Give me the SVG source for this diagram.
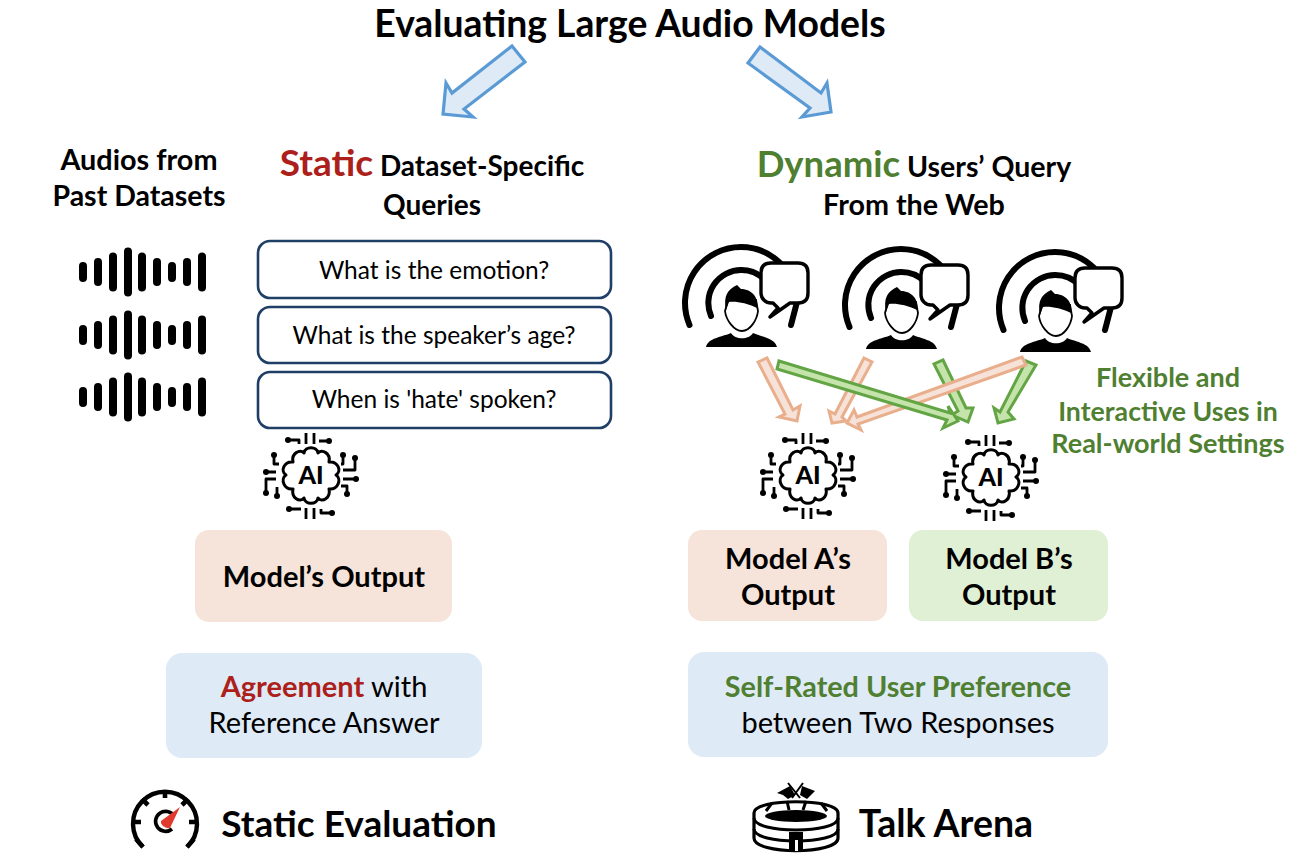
<svg xmlns="http://www.w3.org/2000/svg" width="1310" height="864" viewBox="0 0 1310 864">
<style>
text{font-family:"Lato","Open Sans","Liberation Sans",sans-serif;fill:#000;text-anchor:middle}
.b{font-weight:700}
.red{fill:#ad1f1b;font-weight:700}
.grn{fill:#4f7f31;font-weight:700}
.q{fill:#fff;stroke:#1f3f66;stroke-width:2.6}
.pe{fill:#f6e3d9}.gr{fill:#e0f0d4}.bl{fill:#deeaf6}
.ab{fill:#deeaf6;stroke:#5b9bd5;stroke-width:3.2}
.ao{fill:#f6e2d8;stroke:#e9ae8c;stroke-width:3}
.ag{fill:#c5e4ab;stroke:#63a545;stroke-width:3}
.bar{fill:none;stroke:#000;stroke-width:8;stroke-linecap:round}
.ln{fill:none;stroke:#000;stroke-width:2.800;stroke-linejoin:round}
.arc{fill:none;stroke:#000;stroke-width:6;stroke-linecap:round}
</style>
<defs>
<g id="wave">
<path class="bar" d="M83 -6V6M98 -10V10M113 -15.500V15.500M128 -20.500V20.500M142 -15.500V15.500M157 -10V10M172 -6V6M187 -10V10M202 -15.500V15.500"/>
</g>
<g id="chip">
<path d="M-18 -14C-20 -23 -11 -27 -7 -23C-6 -30 6 -30 7 -23C11 -27 20 -23 18 -14C27 -15 31 -5 25 -1C31 3 27 14 18 13C20 22 11 27 7 22C6 29 -6 29 -7 22C-11 27 -20 22 -18 13C-27 14 -31 3 -25 -1C-31 -5 -27 -15 -18 -14Z" fill="#fff" stroke="#000" stroke-width="3" stroke-linejoin="round"/>
<path class="ln" d="M-5 -43V-32M3 -43V-32M-5 32V43M3 32V43M-23 -36H-12V-32M8 -35H18M-22 33H-10M10 33V37H21M-37 -21V-12H-32M-45 -4H-35M-45 17V3H-35M-34 11V20M32 -21V-12H30M44 -18V-6H32M32 3H45M30 10H36V18"/>
<g><circle cx="-23" cy="-36" r="3"/><circle cx="18" cy="-35" r="3"/><circle cx="-22" cy="33" r="3"/><circle cx="21" cy="37" r="3"/><circle cx="-37" cy="-21" r="3"/><circle cx="-45" cy="-4" r="3"/><circle cx="-45" cy="17" r="3"/><circle cx="-34" cy="20" r="3"/><circle cx="32" cy="-21" r="3"/><circle cx="44" cy="-18" r="3"/><circle cx="45" cy="3" r="3"/><circle cx="36" cy="18" r="3"/></g>
</g>
<g id="person">
<path class="arc" d="M689.500 325A56 56 0 0 1 741 247A56 56 0 0 1 780 263"/>
<path class="arc" d="M711 316A33 33 0 0 1 741 270A33 33 0 0 1 765 280"/>
<path class="arc" d="M797 302L791 325"/>
<path d="M706 347C708 338 722 337 731 333C735 340 749 340 753 333C762 337 775 338 777 347Z" fill="#000"/>
<path d="M725 311C726 320 734 331 742 331C750 331 757 320 758 311L756 300L728 300Z" fill="#fff" stroke="#000" stroke-width="1.800"/>
<path d="M726 310C723 296 728 289 737 285L741 289C752 289 759 298 757 308C747 303 736 301 729 302Z" fill="#000"/>
<path d="M771 263H798Q808 263 808 273V293Q808 303 798 303H790L770 317L778 308L773 303H771C766 303 761 299 761 293V273Q761 263 771 263Z" fill="#fff" stroke="#000" stroke-width="3.400" stroke-linejoin="round"/>
</g>
</defs>

<g id="title"><text class="b" x="630" y="37" font-size="37.300">Evaluating Large Audio Models</text></g>

<g id="connectors">
<polygon class="ab" points="512,46 525,62 464,109 473,117 443,114 446,83 452,93"/>
<polygon class="ab" points="760,47 748,63 810,108 802,117 831,112 827,83 821,93"/>
<polygon class="ao" points="758,362 767,358 793,410 800,406 797,421 779,417 785,414"/>
<polygon class="ao" points="864,358 872,362 842,417 846,421 832,423 829,411 835,414"/>
<polygon class="ag" points="943,360 966,408 973,408 968,422 952,415 958,411 934,364"/>
<polygon class="ag" points="1026,361 1036,365 1008,412 1014,419 998,423 994,408 1000,412"/>
<polygon class="ao" points="1022,357 1026,365 858,424 861,430 847,423 854,410 857,417"/>
<polygon class="ag" points="779,361 950,413 948,406 958,421 943,428 947,420 777,369"/>
</g>

<g id="audios-label"><text class="b" x="139" y="170" font-size="28.800">Audios from</text><text class="b" x="139" y="206" font-size="28.500">Past Datasets</text></g>
<g id="static-label"><text x="432" y="176" class="b" font-size="28"><tspan class="red" font-size="37">Static</tspan> Dataset-Specific</text><text class="b" x="432" y="215" font-size="28">Queries</text></g>
<g id="dynamic-label"><text x="914" y="177" class="b" font-size="28.500"><tspan class="grn" font-size="36.500">Dynamic</tspan> Users’ Query</text><text class="b" x="914" y="215" font-size="28.700">From the Web</text></g>

<g id="waveforms"><use href="#wave" y="272"/><use href="#wave" y="335"/><use href="#wave" y="397"/></g>

<g id="q1"><rect class="q" x="258" y="241" width="353" height="57" rx="12"/><text x="434" y="279" font-size="24.500">What is the emotion?</text></g>
<g id="q2"><rect class="q" x="258" y="307" width="353" height="56" rx="12"/><text x="434" y="344" font-size="24.500">What is the speaker’s age?</text></g>
<g id="q3"><rect class="q" x="258" y="372" width="353" height="56" rx="12"/><text x="434" y="408" font-size="24.500">When is 'hate' spoken?</text></g>

<g id="ai-static"><use href="#chip" x="311" y="476"/><text x="311" y="484" font-size="25" font-weight="900">AI</text></g>
<g id="ai-a"><use href="#chip" x="808" y="476"/><text x="808" y="484" font-size="25" font-weight="900">AI</text></g>
<g id="ai-b"><use href="#chip" x="991" y="478"/><text x="991" y="486" font-size="25" font-weight="900">AI</text></g>

<g id="user1"><use href="#person"/></g>
<g id="user2"><use href="#person" x="160" y="2"/></g>
<g id="user3"><use href="#person" x="314" y="5"/></g>

<g id="flex-label"><text class="grn" x="1168" y="387" font-size="27">Flexible and</text><text class="grn" x="1168" y="421" font-size="26.700">Interactive Uses in</text><text class="grn" x="1168" y="453" font-size="27">Real-world Settings</text></g>

<g id="model-output"><rect class="pe" x="195" y="530" width="257" height="92" rx="14"/><text class="b" x="324" y="587" font-size="29">Model’s Output</text></g>
<g id="model-a"><rect class="pe" x="688" y="530" width="199" height="91" rx="14"/><text class="b" x="788" y="569" font-size="29">Model A’s</text><text class="b" x="788" y="605" font-size="29">Output</text></g>
<g id="model-b"><rect class="gr" x="909" y="530" width="199" height="91" rx="14"/><text class="b" x="1009" y="569" font-size="29">Model B’s</text><text class="b" x="1009" y="605" font-size="29">Output</text></g>
<g id="agreement"><rect class="bl" x="166" y="653" width="316" height="105" rx="16"/><text x="324" y="697" font-size="29"><tspan class="red">Agreement</tspan> with</text><text x="324" y="733" font-size="29">Reference Answer</text></g>
<g id="preference"><rect class="bl" x="688" y="652" width="420" height="105" rx="16"/><text class="grn" x="898" y="697" font-size="28.800">Self-Rated User Preference</text><text x="898" y="733" font-size="29">between Two Responses</text></g>

<g id="static-evaluation">
<path d="M143 847A32 32 0 1 1 187 847" fill="none" stroke="#000" stroke-width="4.400"/>
<path d="M143 847L136 839M187 847L194 839M165 790V798M133 822H141M189 822H197M142 799L148 805M188 799L182 805" stroke="#000" stroke-width="4.600" fill="none"/>
<path d="M174 816A10 10 0 1 0 172 829" fill="none" stroke="#000" stroke-width="3.600"/>
<path d="M180 807L170 828C166 829 160 825 161 821Z" fill="#e03a2f"/>
<text class="b" x="359" y="837" font-size="37">Static Evaluation</text>
</g>
<g id="talk-arena">
<path d="M754 813C754 798 838 798 838 813V838C838 855 754 855 754 838Z" fill="#fff" stroke="#000" stroke-width="3.200"/>
<ellipse cx="796" cy="816" rx="31" ry="6" fill="#000"/>
<path d="M754 818C754 834 838 834 838 818M754 829C754 845 838 845 838 829M772 803L766 811M787 801L789 810M806 801L803 810M821 803L827 811" fill="none" stroke="#000" stroke-width="3"/>
<rect x="789" y="832" width="14" height="19" fill="#000"/>
<rect x="795" y="840" width="3" height="11" fill="#fff"/>
<path d="M788 783L800 798M803 783L792 798" stroke="#000" stroke-width="2" fill="none"/>
<path d="M790 786L795 795L788 799L783 795L777 793Z M802 786L800 795L807 799L811 795L815 791Z" fill="#000"/>
<text class="b" x="946" y="837" font-size="37.500">Talk Arena</text>
</g>
</svg>
